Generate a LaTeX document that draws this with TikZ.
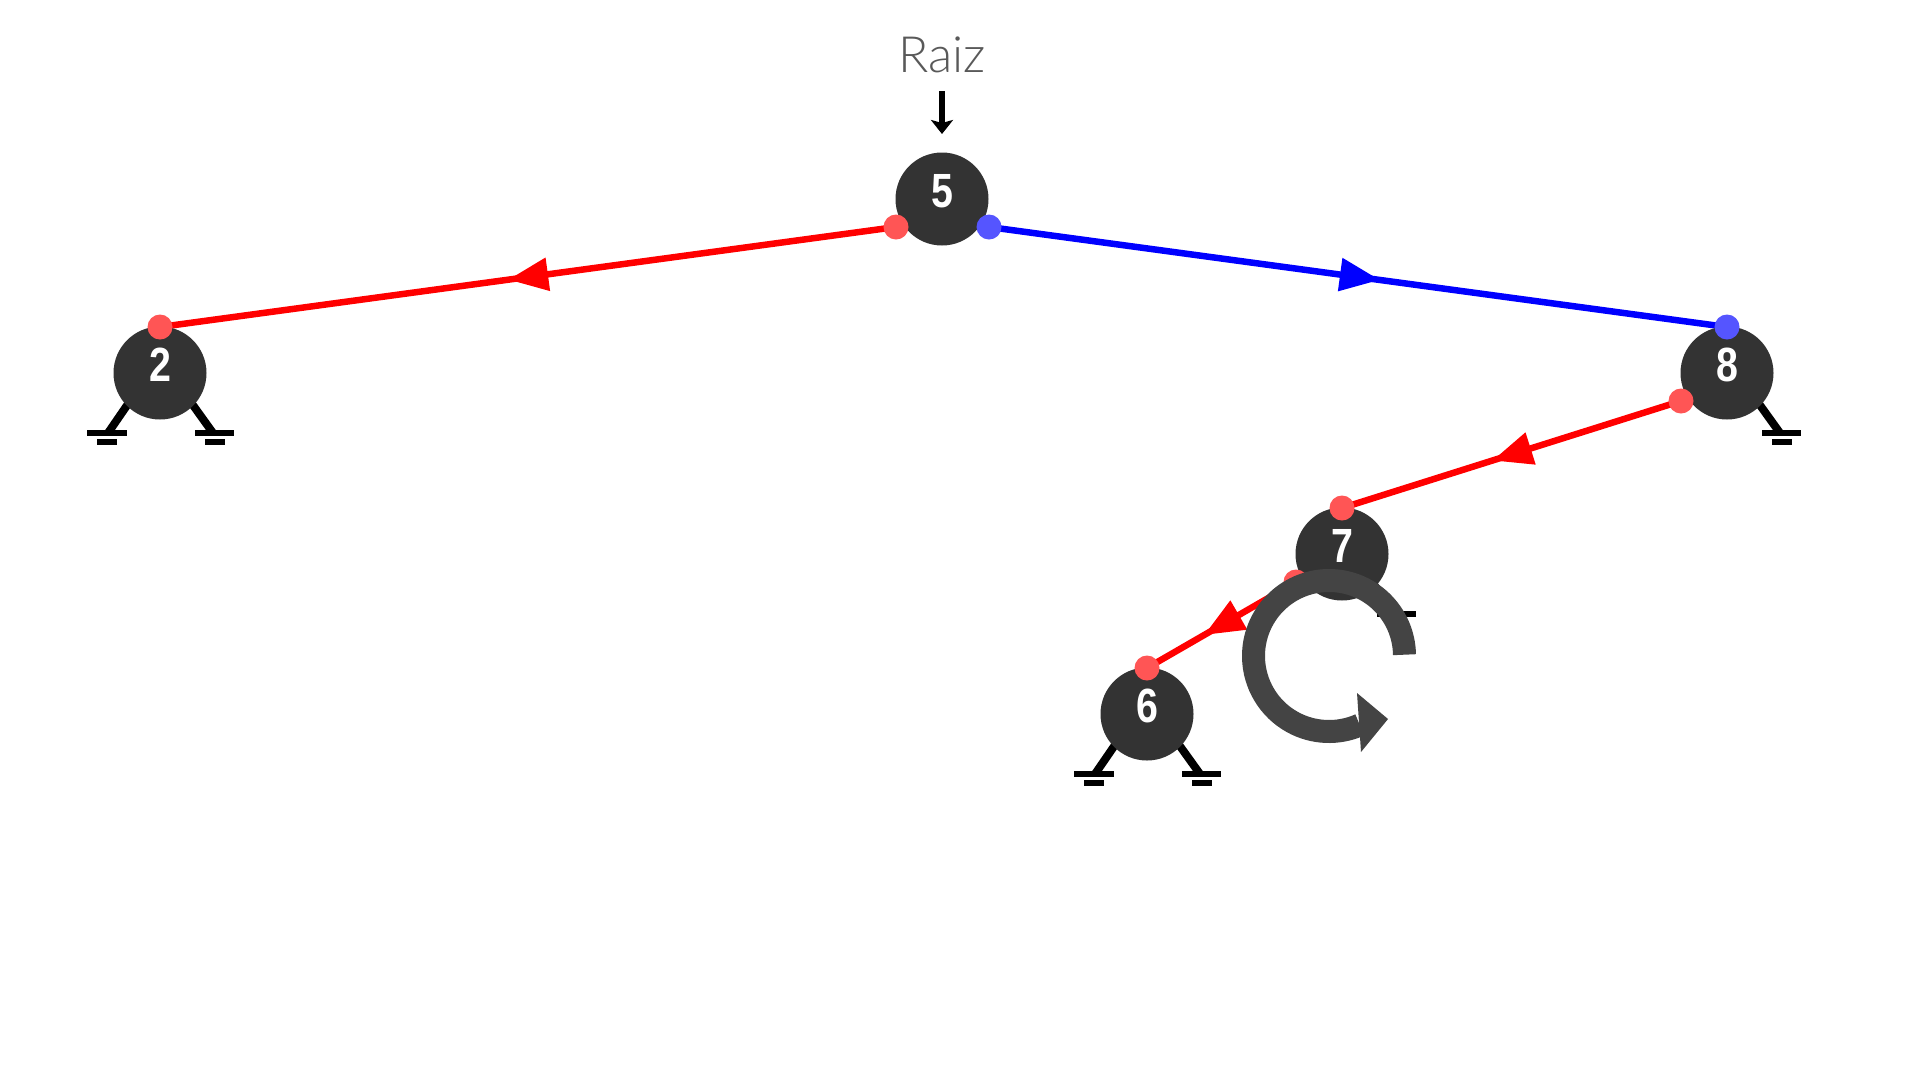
\documentclass[tikz,border=0pt]{standalone}
\usepackage{fontspec}
\usetikzlibrary{arrows.meta,decorations.markings,backgrounds}
\newfontfamily\digitfont{Liberation Sans}
\newfontfamily\labelfont{Lato Light}
\definecolor{nodedark}{HTML}{333333}
\definecolor{ringdark}{HTML}{444444}
\definecolor{dotred}{HTML}{FF5555}
\definecolor{dotblue}{HTML}{5555FF}
\newcommand{\treedigit}[1]{\scalebox{0.82}[1]{#1}}
\tikzset{
  treenode/.style={circle,fill=nodedark,minimum size=93pt,inner sep=0pt,outer sep=0pt},
  digit/.style={text=white,inner sep=0pt,anchor=base,font={\digitfont\bfseries\fontsize{48}{48}\selectfont}},
  rdot/.style={circle,fill=dotred,minimum size=25pt,inner sep=0pt,outer sep=0pt},
  bdot/.style={circle,fill=dotblue,minimum size=25pt,inner sep=0pt,outer sep=0pt},
  edgeline/.style={line width=6.5pt,postaction={decorate},decoration={markings,
    mark=at position 0.5 with {\arrow[xshift=#1]{Triangle[length=40pt,width=32pt]}}}},
  edgeline/.default=20pt,
  gnddiag/.style={line width=8pt,black},
  gndbar/.style={line width=6.5pt,black},
  gndL/.pic={
    \draw[gnddiag] (-30,28) -- (-52,60);
    \draw[gndbar] (-73,60) -- (-33,60);
    \draw[gndbar] (-63,69) -- (-43,69);
  },
  gndR/.pic={
    \draw[gnddiag] (30,28) -- (53,60);
    \draw[gndbar] (35,60) -- (74,60);
    \draw[gndbar] (45,69) -- (65,69);
  }
}
\begin{document}
\begin{tikzpicture}[x=1pt,y=-1pt]
\useasboundingbox (0,0) rectangle (1920,1080);
\begin{scope}[on background layer]
  \fill[white] (0,0) rectangle (1920,1080);
  \pic at (160,373) {gndL};
  \pic at (160,373) {gndR};
  \pic at (1727,373) {gndR};
  \pic at (1342,554) {gndR};
  \pic at (1147,714) {gndL};
  \pic at (1147,714) {gndR};
\end{scope}
% tree nodes
\node[treenode] (n5) at (942,199) {};
\node[treenode] (n2) at (160,373) {};
\node[treenode] (n8) at (1727,373) {};
\node[treenode] (n7) at (1342,554) {};
\node[treenode] (n6) at (1147,714) {};
% digits
\node[digit] (t5) at (942,207) {\treedigit{5}};
\node[digit] (t2) at (160,381) {\treedigit{2}};
\node[digit] (t8) at (1727,381) {\treedigit{8}};
\node[digit] (t7) at (1342,562) {\treedigit{7}};
\node[digit] (t6) at (1147,722) {\treedigit{6}};
% ports
\node[rdot] (p5l) at (896,227) {};
\node[bdot] (p5r) at (989,227) {};
\node[rdot] (p2t) at (160,327) {};
\node[bdot] (p8t) at (1727,327) {};
\node[rdot] (p8l) at (1681,401) {};
\node[rdot] (p7t) at (1342,508) {};
\node[rdot] (p7l) at (1296,582) {};
\node[rdot] (p6t) at (1147,668) {};
% connectors
\begin{scope}[on background layer]
  \draw[edgeline,red] (p5l.center) -- (p2t.center);
  \draw[edgeline=22pt,blue] (p5r.center) -- (p8t.center);
  \draw[edgeline,red] (p8l.center) -- (p7t.center);
  \draw[edgeline,red] (p7l.center) -- (p6t.center);
\end{scope}
% root label
\node[inner sep=0pt,anchor=base,text=black!65,font={\labelfont\fontsize{50}{50}\selectfont}] (raiz) at (942,72) {Raiz};
\coordinate (rootstart) at (942,91);
\coordinate (roottip) at (942,134);
\draw[line width=5.5pt,black,-{Stealth[length=14pt,width=22pt,inset=3pt]}] (rootstart) -- (roottip);
% rotate symbol
\coordinate (ringcentre) at (1329,656);
\draw[ringdark,line width=23pt] ([shift={(1:75.5pt)}]ringcentre) arc[start angle=1,end angle=294,radius=75.5pt];
\fill[ringdark] (1357,693) -- (1388,719) -- (1361,752) -- cycle;
\end{tikzpicture}
\end{document}
